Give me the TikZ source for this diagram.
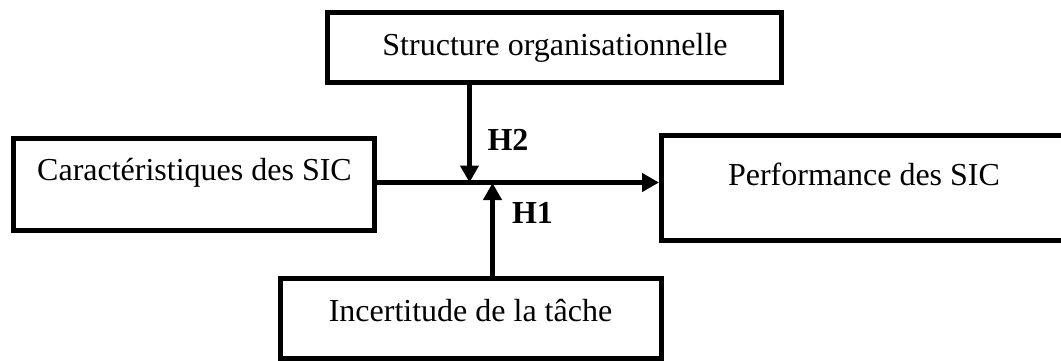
\documentclass[tikz,border=0pt]{standalone}
\usepackage{fontspec}
\setmainfont{Liberation Serif}
\usetikzlibrary{arrows.meta}
\begin{document}
\begin{tikzpicture}[x=1pt,y=-1pt,
  box/.style={draw=black,line width=5pt,inner sep=0pt,rectangle},
  txt/.style={anchor=base,inner sep=0pt,font=\fontsize{32}{38}\selectfont},
  hlab/.style={anchor=base,inner sep=0pt,font=\fontsize{32}{38}\selectfont\bfseries},
  arr/.style={line width=5pt,-{Triangle[length=17pt,width=18pt]}}]
\useasboundingbox (0,0) rectangle (1061,360);
\clip (0,0) rectangle (1061,360);
% boxes
\node[box,minimum width=453.5pt,minimum height=70pt] (struct) at (554.25,47.5) {};
\node[box,minimum width=361pt,minimum height=92pt] (cara) at (194,184.5) {};
\node[box,minimum width=538.5pt,minimum height=105pt] (perf) at (930.75,188) {};
\node[box,minimum width=381.5pt,minimum height=79.5pt] (incert) at (470.75,318.25) {};
% texts
\node[txt] (tstruct) at (555,55) {Structure organisationnelle};
\node[txt] (tcara) at (194.5,180) {Caractéristiques des SIC};
\node[txt] (tperf) at (864,185) {Performance des SIC};
\node[txt] (tincert) at (470.5,321.5) {Incertitude de la tâche};
\node[hlab] (h2) at (508,150) {H2};
\node[hlab] (h1) at (532.5,223) {H1};
% connectors
\coordinate (m) at (470,182.5);
\coordinate (h2tip) at (469.5,182.5);
\coordinate (h1tip) at (492.5,183);
\draw[arr] (cara.east |- m) -- (perf.west |- m);
\draw[arr] (struct.south -| h2tip) -- (h2tip);
\draw[arr] (incert.north -| h1tip) -- (h1tip);
\end{tikzpicture}
\end{document}
